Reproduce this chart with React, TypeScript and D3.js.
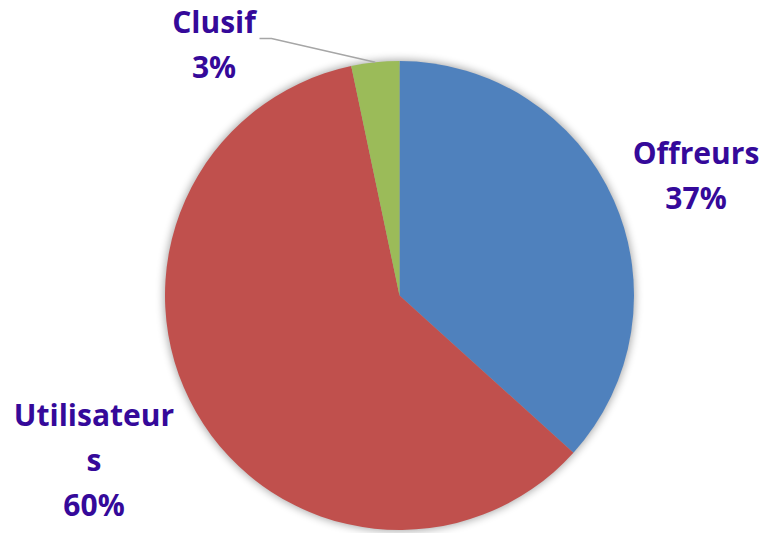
import React, { useEffect, useRef } from 'react';
import * as d3 from 'd3';

const categories = ['Offreurs', 'Utilisateurs', 'Clusif'];
const shares = [36.7, 60.0, 3.3];
const labelLines = [['Offreurs'], ['Utilisateur', 's'], ['Clusif']];
const colors = ['#4F81BD', '#C0504D', '#9BBB59'];

const W = 767;
const H = 533;

export default function App() {
  const svgRef = useRef<SVGSVGElement>(null);

  useEffect(() => {
    if (!svgRef.current) return;
    const svg = d3.select(svgRef.current);
    svg.selectAll('*').remove();

    const cx = 399.5;
    const cy = 295.5;
    const r = 234.5;

    const defs = svg.append('defs');
    const f = defs.append('filter').attr('id', 'pieShadow')
      .attr('x', '-10%').attr('y', '-10%').attr('width', '120%').attr('height', '120%');
    f.append('feGaussianBlur').attr('stdDeviation', 4);

    const data = categories.map((c, i) => ({ name: c, value: shares[i], i }));
    const pie = d3.pie<{ name: string; value: number; i: number }>()
      .sort(null)
      .value(d => d.value);
    const arcs = pie(data);
    const arc = d3.arc<d3.PieArcDatum<any>>().innerRadius(0).outerRadius(r);

    const g = svg.append('g').attr('transform', `translate(${cx},${cy})`);

    // soft shadow behind the pie
    g.append('circle')
      .attr('r', r + 1)
      .attr('fill', '#000')
      .attr('opacity', 0.35)
      .attr('filter', 'url(#pieShadow)');

    g.selectAll('path.slice')
      .data(arcs)
      .enter()
      .append('path')
      .attr('class', 'slice')
      .attr('d', arc as any)
      .attr('fill', d => colors[d.data.i]);

    // label positions (layout), relative to the pie centre
    const labelPos = [
      [296.5, -131.5],
      [-305.5, 130.5],
      [-185.5, -262.5],
    ];
    const lineH = 45;

    arcs.forEach((a, i) => {
      const pct = Math.round(a.data.value) + '%';
      const lines = [...labelLines[i], pct];
      const t = g.append('text')
        .attr('x', labelPos[i][0])
        .attr('y', labelPos[i][1])
        .attr('text-anchor', 'middle')
        .attr('font-family', '"Open Sans", sans-serif')
        .attr('font-weight', 'bold')
        .attr('font-size', 30)
        .attr('fill', '#35099A');
      lines.forEach((s, k) => {
        t.append('tspan')
          .attr('x', labelPos[i][0])
          .attr('y', labelPos[i][1] + k * lineH)
          .text(s);
      });
    });

    // leader line for the small slice
    const green = arcs[2];
    const mid = (green.startAngle + green.endAngle) / 2;
    const ex = r * Math.sin(mid);
    const ey = -r * Math.cos(mid);
    g.append('path')
      .attr('d', `M${-140},${-257}L${-128},${-257}L${ex},${ey}`)
      .attr('fill', 'none')
      .attr('stroke', '#A6A6A6')
      .attr('stroke-width', 1.5);
  }, []);

  return (
    <svg
      ref={svgRef}
      width={W}
      height={H}
      style={{ position: 'absolute', left: 0, top: 0, background: '#fff' }}
    />
  );
}
